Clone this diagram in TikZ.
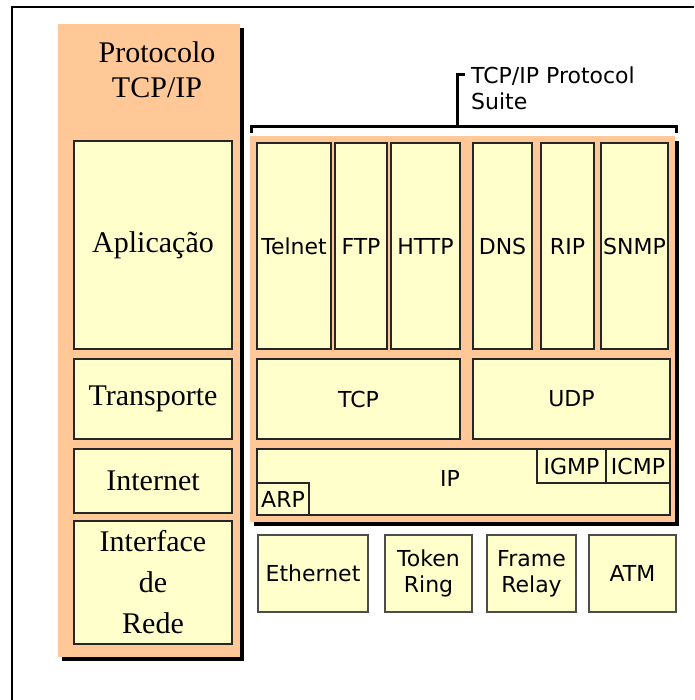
\documentclass[tikz,border=0pt]{standalone}
\usepackage{fontspec}
\setmainfont{Liberation Serif}
\newfontfamily\suitefont{DejaVu Sans}
\definecolor{peach}{RGB}{255,200,150}
\definecolor{cream}{RGB}{255,255,204}
\begin{document}
\begin{tikzpicture}[x=1pt,y=-1pt,
  panel/.style={fill=peach},
  dropshadow/.style={fill=black},
  layerbox/.style={draw=black!85, line width=1.5pt, fill=cream, inner sep=0pt},
  netbox/.style={draw=black!70, line width=2pt, fill=cream, inner sep=0pt,
    minimum height=77, align=center},
  serifl/.style={font=\fontsize{30}{41}\selectfont},
  sansl/.style={font=\suitefont\fontsize{22}{26}\selectfont},
  bracket/.style={line width=3pt, black},
]
\useasboundingbox (0,0) rectangle (694,700);

% outer frame (top and left edges)
\draw[line width=2pt] (12,700) -- (12,7) -- (694,7);

% ---------- left column: TCP/IP model layers ----------
\fill[dropshadow] (62,28) rectangle (244,661);
\fill[panel] (58,24) rectangle (240,657);
\node[serifl, align=center] (modeltitle) at (157,70) {Protocolo\\[-6pt]TCP/IP};

\node[layerbox, serifl, minimum width=158, minimum height=208] (apl) at (153,245) {Aplicação};
\node[layerbox, serifl, minimum width=158, minimum height=80] (trans) at (153,399) {Transporte};
\node[layerbox, serifl, minimum width=158, minimum height=64] (inet) at (153,481) {Internet};
\node[layerbox, serifl, minimum width=158, minimum height=123, align=center] (rede) at (153,582.5) {Interface\\de\\Rede};

% ---------- right column: protocol suite ----------
\fill[dropshadow] (254,141) rectangle (679,526);
\fill[panel] (250,136) rectangle (675,522);

% bracket and caption
\coordinate (brl) at (251,133);
\coordinate (brr) at (676,133);
\coordinate (stem) at (457,127);
\coordinate (stemtop) at (457,75);
\draw[bracket] (brl) -- (brl |- stem) -- (brr |- stem) -- (brr);
\draw[bracket] (stem) -- (stemtop) -- ++(8,0);
\node[sansl, align=left, anchor=west, inner sep=0pt] (suite) at (471,88) {TCP/IP Protocol\\Suite};

% application protocols
\node[layerbox, sansl, minimum width=74, minimum height=206] (telnet) at (294,246) {Telnet};
\node[layerbox, sansl, minimum width=52, minimum height=206] (ftp) at (361,246) {FTP};
\node[layerbox, sansl, minimum width=69, minimum height=206] (http) at (425.5,246) {HTTP};
\node[layerbox, sansl, minimum width=59, minimum height=206] (dns) at (502.5,246) {DNS};
\node[layerbox, sansl, minimum width=53, minimum height=206] (rip) at (567.5,246) {RIP};
\node[layerbox, sansl, minimum width=67, minimum height=206] (snmp) at (634.5,246) {SNMP};

% transport protocols
\node[layerbox, sansl, minimum width=203, minimum height=80] (tcp) at (358.5,399) {TCP};
\node[layerbox, sansl, minimum width=197, minimum height=80] (udp) at (571.5,399) {UDP};

% internet layer
\node[layerbox, minimum width=413, minimum height=66] (ip) at (463.5,482) {};
\node[sansl] (iplabel) at (450,478) {IP};
\node[layerbox, sansl, minimum width=69, minimum height=34] (igmp) at (571.5,466) {IGMP};
\node[layerbox, sansl, minimum width=64, minimum height=34] (icmp) at (638,466) {ICMP};
\node[layerbox, sansl, minimum width=52, minimum height=32] (arp) at (283,499) {ARP};

% network access technologies
\node[netbox, sansl, minimum width=110] (eth) at (313,573.5) {Ethernet};
\node[netbox, sansl, minimum width=87] (token) at (428.5,573.5) {Token\\Ring};
\node[netbox, sansl, minimum width=89] (frame) at (531.5,573.5) {Frame\\Relay};
\node[netbox, sansl, minimum width=87] (atm) at (632.5,573.5) {ATM};
\end{tikzpicture}
\end{document}
